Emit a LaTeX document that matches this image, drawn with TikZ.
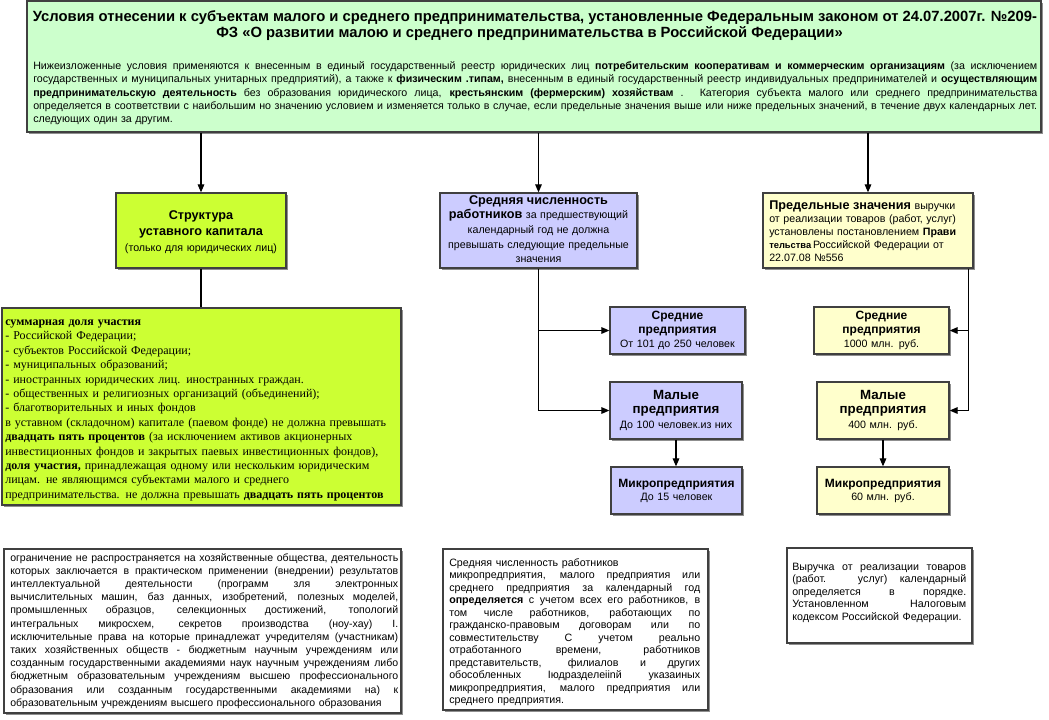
\documentclass[tikz,border=0pt]{standalone}
\usepackage{fontspec}
\setmainfont{Liberation Sans}
\newfontfamily\timesfont{Liberation Serif}
\usetikzlibrary{arrows.meta,fit,shadows}
\definecolor{hdrfill}{HTML}{CCFFCC}
\definecolor{limefill}{HTML}{CCFF33}
\definecolor{lavfill}{HTML}{CCCCFF}
\definecolor{yelfill}{HTML}{FFFFCC}
\definecolor{edgecol}{HTML}{404040}
\newlength{\jlw}
\newcommand{\jl}[1]{\leavevmode\hbox to \jlw{\spaceskip=0pt\xspaceskip=0pt\relax #1}}
\begin{document}
\begin{tikzpicture}[x=0.75pt,y=-0.75pt,
  box/.style={draw=edgecol, line width=1pt, inner sep=0pt, fit={#1},
    drop shadow={shadow xshift=1.2pt, shadow yshift=-1.2pt, fill=black!55, opacity=0.8}},
  arr/.style={draw=black, line width=0.8pt, -{Triangle[length=6pt,width=5pt]}},
  ln/.style={draw=black, line width=0.8pt},
  txt/.style={inner sep=0pt, font=\fontsize{8}{10}\selectfont},
  ctxt/.style={txt, anchor=base, align=center, text width=#1},
  ltxt/.style={txt, anchor=base west, align=left, text width=#1}]
\path[use as bounding box, fill=white] (0,0) rectangle (1049,719);

% ---------- boxes ----------
\node[box={(27,1)(1041,132)}, fill=hdrfill] (hdr) {};
\node[box={(116,193)(286,268)}, fill=limefill] (struk) {};
\node[box={(2,308)(401,505)}, fill=limefill] (big) {};
\node[box={(440,193)(637,268)}, fill=lavfill] (sred) {};
\node[box={(763,193)(973,268)}, fill=yelfill] (pred) {};
\node[box={(610,307)(745,354)}, fill=lavfill] (msred) {};
\node[box={(610,382)(742,439)}, fill=lavfill] (mmal) {};
\node[box={(611,467)(742,514)}, fill=lavfill] (mmic) {};
\node[box={(814,307)(949,354)}, fill=yelfill] (rsred) {};
\node[box={(817,382)(949,439)}, fill=yelfill] (rmal) {};
\node[box={(817,467)(949,514)}, fill=yelfill] (rmic) {};
\node[box={(4,549)(401,713)}, fill=white] (bl) {};
\node[box={(443,549)(708,710)}, fill=white] (bm) {};
\node[box={(787,548)(972,643)}, fill=white] (br) {};

% ---------- header text ----------
\node[inner sep=0pt, anchor=base, font=\fontsize{11.1}{14}\selectfont\bfseries] (ttl1) at (535,21.5)
  {Условия отнесении к субъектам малого и среднего предпринимательства, установленные Федеральным законом от 24.07.2007г. №209-};
\node[inner sep=0pt, anchor=base west, font=\fontsize{11.1}{14}\selectfont\bfseries] (ttl2) at (216,37.5)
  {ФЗ «О развитии малою и среднего предпринимательства в Российской Федерации»};
\node[ltxt=753pt] (hbody) at (33,69.5) {\setlength{\jlw}{753pt}%
\jl{Нижеизложенные условия применяются к внесенным в единый государственный реестр юридических лиц \textbf{потребительским кооперативам и коммерческим организациям} (за исключением}\\
\jl{государственных и муниципальных унитарных предприятий), а также к \textbf{физическим .типам,} внесенным в единый государственный реестр индивидуальных предпринимателей и \textbf{осуществляющим}}\\
\jl{\textbf{предпринимательскую деятельность} без образования юридического лица, \textbf{крестьянским (фермерским) хозяйствам} . Категория субъекта малого или среднего предпринимательства}\\
\jl{определяется в соответствии с наибольшим но значению условием и изменяется только в случае, если предельные значения выше или ниже предельных значений, в течение двух календарных лет.}\\
следующих один за другим.};

% ---------- second row texts ----------
\node[ctxt=170pt, font=\fontsize{8}{12}\selectfont] (struktxt) at (201,219.5)
  {{\bfseries\fontsize{9.5}{12}\selectfont Структура\\уставного капитала}\\(только для юридических лиц)};
\node[ctxt=180pt, font=\fontsize{8}{11}\selectfont] (sredtxt) at (538.5,204)
  {{\bfseries\fontsize{9.5}{11}\selectfont Средняя численность\\работников} за предшествующий\\календарный год не должна\\превышать следующие предельные\\значения};
\node[ltxt=190pt, font=\fontsize{8}{9.8}\selectfont] (predtxt) at (769,209.5)
  {{\bfseries\fontsize{9.5}{9.8}\selectfont Предельные значения} выручки\\от реализации товаров (работ, услуг)\\установлены постановлением \textbf{Прави}\\{\bfseries\fontsize{7}{9.8}\selectfont тельства}\,Российской Федерации от\\22.07.08 №556};

% ---------- small boxes texts ----------
\node[ctxt=130pt, font=\fontsize{8}{10.5}\selectfont] (msredtxt) at (677.5,319.5)
  {{\bfseries\fontsize{9}{10.5}\selectfont Средние\\предприятия}\\От 101 до 250 человек};
\node[ctxt=130pt, font=\fontsize{8}{11}\selectfont] (mmaltxt) at (676,399)
  {{\bfseries\fontsize{10}{11}\selectfont Малые\\предприятия}\\До 100 человек.из них};
\node[ctxt=130pt, font=\fontsize{8}{9.6}\selectfont] (mmictxt) at (676.5,487.5)
  {{\bfseries\fontsize{9}{9.6}\selectfont Микропредприятия}\\До 15 человек};
\node[ctxt=130pt, font=\fontsize{8}{10.5}\selectfont] (rsredtxt) at (881.5,319.5)
  {{\bfseries\fontsize{9}{10.5}\selectfont Средние\\предприятия}\\1000 млн. руб.};
\node[ctxt=130pt, font=\fontsize{8}{11}\selectfont] (rmaltxt) at (883,399)
  {{\bfseries\fontsize{10}{11}\selectfont Малые\\предприятия}\\400 млн. руб.};
\node[ctxt=130pt, font=\fontsize{8}{9.6}\selectfont] (rmictxt) at (883,487.5)
  {{\bfseries\fontsize{9}{9.6}\selectfont Микропредприятия}\\60 млн. руб.};

% ---------- big lime box text ----------
\node[ltxt=340pt, font=\timesfont\fontsize{9}{10.8}\selectfont] (bigtxt) at (5,325.5) {%
\textbf{суммарная доля участия}\\
- Российской Федерации;\\
- субъектов Российской Федерации;\\
- муниципальных образований;\\
- иностранных юридических лиц. иностранных граждан.\\
- общественных и религиозных организаций (объединений);\\
- благотворительных и иных фондов\\
в уставном (складочном) капитале (паевом фонде) не должна превышать\\
\textbf{двадцать пять процентов} (за исключением активов акционерных\\
инвестиционных фондов и закрытых паевых инвестиционных фондов),\\
\textbf{доля участия,} принадлежащая одному или нескольким юридическим\\
лицам. не являющимся субъектами малого и среднего\\
предпринимательства. не должна превышать \textbf{двадцать пять процентов}};

% ---------- bottom texts ----------
\node[ltxt=291pt, font=\fontsize{7.9}{9.9}\selectfont] (bltxt) at (10,561) {\setlength{\jlw}{291pt}%
\jl{ограничение не распространяется на хозяйственные общества, деятельность}\\
\jl{которых заключается в практическом применении (внедрении) результатов}\\
\jl{интеллектуальной деятельности (программ зля электронных}\\
\jl{вычислительных машин, баз данных, изобретений, полезных моделей,}\\
\jl{промышленных образцов, селекционных достижений, топологий}\\
\jl{интегральных микросхем, секретов производства (ноу-хау) I.}\\
\jl{исключительные права на которые принадлежат учредителям (участникам)}\\
\jl{таких хозяйственных обществ - бюджетным научным учреждениям или}\\
\jl{созданным государственными академиями наук научным учреждениям либо}\\
\jl{бюджетным образовательным учреждениям высшею профессионального}\\
\jl{образования или созданным государственными академиями на) к}\\
образовательным учреждениям высшего профессионального образования};
\node[ltxt=188.25pt, font=\fontsize{8}{9.4}\selectfont] (bmtxt) at (449,566) {\setlength{\jlw}{188.25pt}%
Средняя численность работников\\
\jl{микропредприятия, малого предприятия или}\\
\jl{среднего предприятия за календарный год}\\
\jl{\textbf{определяется} с учетом всех его работников, в}\\
\jl{том числе работников, работающих по}\\
\jl{гражданско-правовым договорам или по}\\
\jl{совместительству С учетом реально}\\
\jl{отработанного времени, работников}\\
\jl{представительств, филиалов и других}\\
\jl{обособленных Iюдразделеiinй указаиных}\\
\jl{микропредприятия, малого предприятия или}\\
среднего предприятия.};
\node[ltxt=130.5pt, font=\fontsize{8}{9.4}\selectfont] (brtxt) at (792,570) {\setlength{\jlw}{130.5pt}%
\jl{Выручка от реализации товаров}\\
\jl{(работ. услуг) календарный}\\
\jl{определяется в порядке.}\\
\jl{Установленном Налоговым}\\
кодексом Российской Федерации.};

% ---------- connectors ----------
\draw[arr] (struk.north |- hdr.south) -- (struk.north);
\draw[arr] (sred.north |- hdr.south) -- (sred.north);
\draw[arr] (pred.north |- hdr.south) -- (pred.north);
\draw[ln] (struk.south) -- (struk.south |- big.north);
\draw[arr] (sred.south) |- (msred.west);
\draw[arr] (sred.south) |- (mmal.west);
\draw[arr] (mmal.south) -- (mmal.south |- mmic.north);
\draw[arr] ([xshift=-3.75pt]pred.south east) |- (rsred.east);
\draw[arr] ([xshift=-3.75pt]pred.south east) |- (rmal.east);
\draw[arr] (rmal.south) -- (rmal.south |- rmic.north);
\end{tikzpicture}
\end{document}
